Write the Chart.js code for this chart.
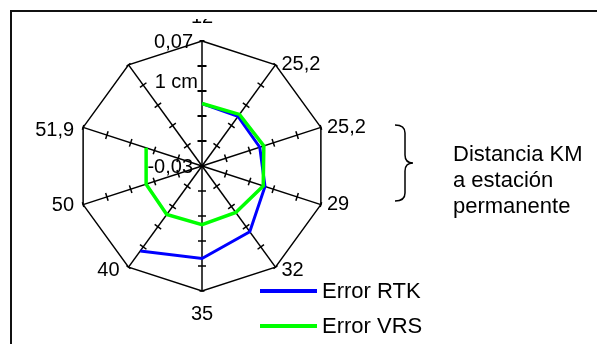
<!DOCTYPE html>
<html>
<head>
<meta charset="utf-8">
<script src="https://cdn.jsdelivr.net/npm/chart.js@4/dist/chart.umd.min.js"></script>
<style>
  html, body { margin: 0; padding: 0; background: #fff; }
  #wrap { position: relative; width: 597px; height: 344px; }
</style>
</head>
<body>
<div id="wrap"><canvas id="c" width="597" height="344"></canvas></div>
<script>
// ---- data ----
const categories = ["12", "25,2", "25,2", "29", "32", "35", "40", "50", "51,9", ""];
const errorRTK = [0.020, 0.019, 0.0186, 0.023, 0.035, 0.044, 0.054, null, null, null];
const errorVRS = [0.020, 0.021, 0.022, 0.0215, 0.016, 0.017, 0.018, 0.017, 0.017, null];
const seriesNames = ["Error RTK", "Error VRS"];
const scaleMin = -0.03;
const scaleMax = 0.07;
const scaleStep = 0.02;
const scaleLabels = [{ value: 0.07, text: "0,07" }, { value: -0.03, text: "-0,03" }];
const unitLabel = "1 cm";
const sideNote = ["Distancia KM", "a estación", "permanente"];

const FONT = '"Liberation Sans", Arial, sans-serif';

const decorPlugin = {
  id: 'decor',
  beforeDatasetsDraw(chart) {
    const ctx = chart.ctx;
    const s = chart.scales.r;
    const n = chart.data.labels.length;
    ctx.save();
    ctx.strokeStyle = '#000';
    for (let i = 0; i < n; i++) {
      for (let v = scaleMin + scaleStep; v <= scaleMax + 1e-9; v += scaleStep) {
        const p = s.getPointPositionForValue(i, v);
        const a = p.angle;
        const px = -Math.sin(a), py = Math.cos(a);
        const last = v > scaleMax - 1e-9;
        const half = last ? 2.5 : (i === 0 ? 4.5 : 4);
        ctx.lineWidth = i === 0 ? 2 : 1.5;
        ctx.beginPath();
        ctx.moveTo(p.x - px * half, p.y - py * half);
        ctx.lineTo(p.x + px * half, p.y + py * half);
        ctx.stroke();
      }
    }
    ctx.restore();
  },
  afterDraw(chart) {
    const ctx = chart.ctx;
    const s = chart.scales.r;
    ctx.save();
    ctx.fillStyle = '#000';
    ctx.font = '20px ' + FONT;
    ctx.textBaseline = 'middle';
    // category labels
    chart.data.labels.forEach((lab, i) => {
      if (!lab) return;
      const p = s.getPointPositionForValue(i, scaleMax);
      const dx = p.x - s.xCenter;
      const below = p.y > s.yCenter + 50;
      if (i === 0) {
        ctx.textAlign = 'center';
        ctx.textBaseline = 'alphabetic';
        ctx.fillText(lab, p.x, p.y - 18);
        ctx.textBaseline = 'middle';
        // part of the label hidden behind the frame area
        ctx.fillStyle = '#fff';
        ctx.fillRect(p.x - 15, 0, 30, 19);
        ctx.fillStyle = '#000';
      } else if (Math.abs(dx) < 2) {
        ctx.textAlign = 'center';
        ctx.fillText(lab, p.x, p.y + 23);
      } else if (dx > 0) {
        ctx.textAlign = 'left';
        ctx.fillText(lab, p.x + 6, p.y + (below ? 3 : (p.y < s.yCenter ? 0 : 0)));
      } else {
        ctx.textAlign = 'right';
        ctx.fillText(lab, p.x - 9, p.y + (below ? 3 : (p.y < s.yCenter ? 3 : 1)));
      }
    });
    // scale labels
    ctx.textAlign = 'right';
    scaleLabels.forEach(l => {
      const p = s.getPointPositionForValue(0, l.value);
      ctx.fillText(l.text, p.x - 9, p.y + 1);
    });
    const pu = s.getPointPositionForValue(0, 0.037);
    ctx.fillText(unitLabel, pu.x - 4, pu.y);

    // legend
    ctx.font = '22px ' + FONT;
    const legY = [291, 326];
    chart.data.datasets.forEach((ds, k) => {
      ctx.strokeStyle = ds.borderColor;
      ctx.lineWidth = 4;
      ctx.beginPath();
      ctx.moveTo(260, legY[k]);
      ctx.lineTo(317, legY[k]);
      ctx.stroke();
      ctx.textAlign = 'left';
      ctx.fillStyle = '#000';
      ctx.fillText(ds.label, 322, legY[k] + 1);
    });

    // brace
    ctx.strokeStyle = '#000';
    ctx.lineWidth = 1.5;
    ctx.beginPath();
    ctx.moveTo(395, 125);
    ctx.quadraticCurveTo(405, 125, 405, 133);
    ctx.lineTo(405, 155);
    ctx.quadraticCurveTo(405, 163, 413, 163);
    ctx.quadraticCurveTo(405, 163, 405, 171);
    ctx.lineTo(405, 193);
    ctx.quadraticCurveTo(405, 201, 395, 201);
    ctx.stroke();

    // side note
    ctx.textAlign = 'left';
    ctx.font = '22px ' + FONT;
    sideNote.forEach((t, k) => ctx.fillText(t, 453, 155 + k * 26));

    // frame
    ctx.strokeStyle = '#111';
    ctx.lineWidth = 2;
    ctx.beginPath();
    ctx.moveTo(11, 344);
    ctx.lineTo(11, 11);
    ctx.lineTo(597, 11);
    ctx.stroke();
    ctx.restore();
  }
};

new Chart(document.getElementById('c'), {
  type: 'radar',
  data: {
    labels: categories,
    datasets: [
      { label: seriesNames[0], data: errorRTK, borderColor: '#0000FF', borderWidth: 3, order: 1 },
      { label: seriesNames[1], data: errorVRS, borderColor: '#00FF00', borderWidth: 3.5, order: 0 }
    ]
  },
  options: {
    responsive: false,
    animation: false,
    layout: { padding: { left: 77, right: 270, top: 41, bottom: 53 } },
    elements: {
      line: { fill: false, tension: 0, borderJoinStyle: 'miter' },
      point: { radius: 0, hoverRadius: 0 }
    },
    spanGaps: false,
    plugins: { legend: { display: false }, tooltip: { enabled: false } },
    scales: {
      r: {
        min: scaleMin,
        max: scaleMax,
        beginAtZero: false,
        ticks: { display: false, stepSize: scaleStep },
        pointLabels: { display: false },
        angleLines: { color: '#000', lineWidth: 1.5 },
        grid: {
          lineWidth: 1.5,
          color: c => (c.tick && c.tick.value > scaleMax - 1e-6) ? '#000' : 'rgba(0,0,0,0)'
        }
      }
    }
  },
  plugins: [decorPlugin]
});
</script>
</body>
</html>
